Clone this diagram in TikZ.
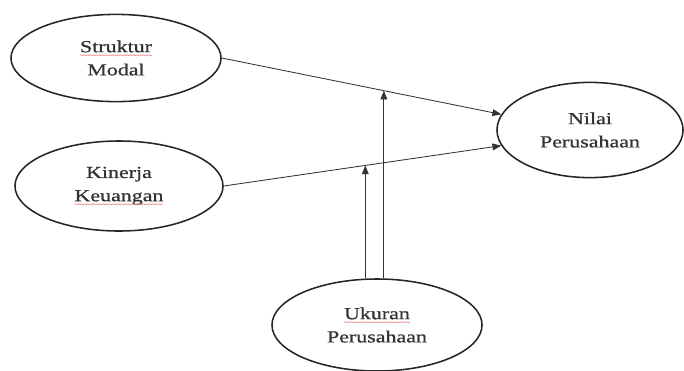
\documentclass[tikz,border=0pt]{standalone}
\usepackage{fontspec}
\setmainfont{Liberation Serif}
\newfontfamily\varfont[FakeStretch=1.3,FakeBold=0.8]{Liberation Serif}
\usepackage{tikz}
\usetikzlibrary{arrows.meta, shapes, calc, decorations.pathmorphing}
\definecolor{lineclr}{HTML}{333333}
\definecolor{spellred}{HTML}{D9534F}
% red wavy mark of the spell checker
\newcommand{\spellmark}[1]{\tikz[baseline=(w.base)]{\node[shape=rectangle,draw=none,minimum size=0pt,inner sep=0pt,outer sep=0pt] (w) {#1};
  \draw[spellred!70,line width=0.4pt,decorate,decoration={snake,amplitude=0.45pt,segment length=2.2pt}]
    ([yshift=-2.2pt]w.base west) -- ([yshift=-2.2pt]w.base east);}}
\tikzset{
  varnode/.style={ellipse,draw=black!85,line width=1.1pt,inner sep=0pt,align=center,
    font=\varfont\fontsize{12}{16.5}\selectfont,text=black!80},
  pathedge/.style={-{Triangle[length=2.2mm,width=1.7mm]},lineclr,line width=0.6pt},
}

\begin{document}
\begin{tikzpicture}[x=0.025cm,y=-0.025cm]
  \useasboundingbox (0,0) rectangle (684,370);
  \node[varnode,minimum width=5.25cm,minimum height=2.18cm] (nS) at (116,58) {\spellmark{Struktur}\\Modal};
  \node[varnode,minimum width=5.2cm,minimum height=2.25cm] (nK) at (119,186) {Kinerja\\\spellmark{Keuangan}};
  \node[varnode,minimum width=4.65cm,minimum height=2.38cm] (nN) at (590,130) {Nilai\\Perusahaan};
  \node[varnode,minimum width=5.25cm,minimum height=2.3cm] (nU) at (377,325) {\spellmark{Ukuran}\\Perusahaan};
  \draw[pathedge] (nS.east) -- coordinate[pos=0.58] (mS) (nN.170);
  \draw[pathedge] (nK.east) -- coordinate[pos=0.51] (mK) (nN.190);
  \draw[pathedge] (nU.north -| mS) -- (mS);
  \draw[pathedge] (nU.north -| mK) -- (mK);
\end{tikzpicture}
\end{document}
